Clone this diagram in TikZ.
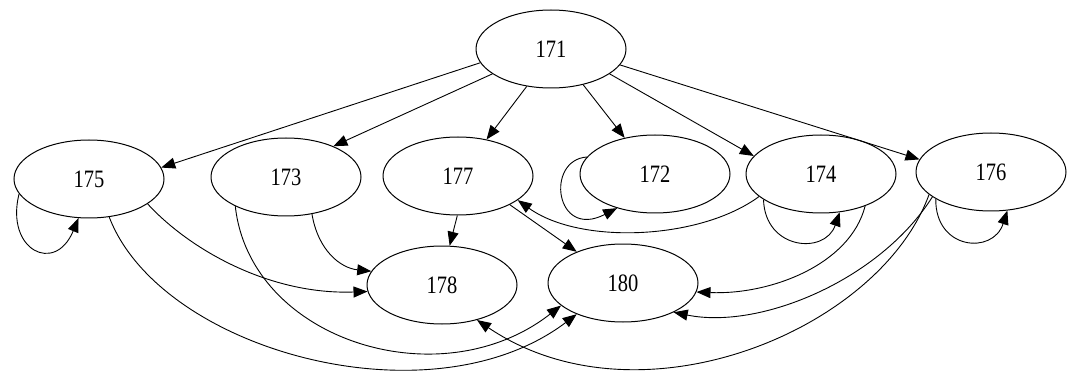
\documentclass[tikz,border=0pt]{standalone}
\usepackage{fontspec}
\usepackage{graphicx}
\setmainfont{Liberation Serif}
\usetikzlibrary{shapes.geometric,arrows.meta}

\tikzset{
  state/.style={draw, ellipse, line width=1pt, minimum width=150pt,
    minimum height=78pt, inner sep=0pt,
    font=\fontsize{20.5}{20}\selectfont},
  link/.style={line width=0.9pt, -{Triangle[length=14pt,width=11pt]}},
}
\newcommand{\lbl}[1]{\scalebox{1}[1.22]{#1}}

\begin{document}
\begin{tikzpicture}[x=1pt, y=-1pt]
  \useasboundingbox (0,0) rectangle (1068,374);

  % states
  \node[state] (n171) at (551,49)  {\lbl{171}};
  \node[state] (n175) at (89,179)  {\lbl{175}};
  \node[state] (n173) at (286,177) {\lbl{173}};
  \node[state] (n177) at (458,176) {\lbl{177}};
  \node[state] (n172) at (655,174) {\lbl{172}};
  \node[state] (n174) at (821,174) {\lbl{174}};
  \node[state] (n176) at (991,172) {\lbl{176}};
  \node[state] (n178) at (442,285) {\lbl{178}};
  \node[state] (n180) at (623,283) {\lbl{180}};

  % transitions out of 171
  \draw[link] (n171.191) -- (n175.9);
  \draw[link] (n171.203) -- (n173.33);
  \draw[link] (n171.237) -- (n177.52);
  \draw[link] (n171.-48) -- (n172.130);
  \draw[link] (n171.-23) -- (n174.165);
  \draw[link] (n171.-13) -- (n176.170);

  % self loops
  \draw[link] (n175.192) .. controls (5,250) and (55,275) .. (n175.-105);
  \draw[link] (n172.166) .. controls (545,160) and (555,240) .. (n172.222);
  \draw[link] (n174.204) .. controls (765,250) and (825,255) .. (n174.-64);
  \draw[link] (n176.206) .. controls (935,250) and (993,255) .. (n176.-67);

  % transitions into 178
  \draw[link] (n175.-23) .. controls (190,250) and (270,295) .. (n178.185);
  \draw[link] (n173.-55) .. controls (318,250) and (340,268) .. (n178.169);
  \draw[link] (n177.-91) -- (n178.79);
  \draw[link] (n176.200) .. controls (880,330) and (640,430) .. (n178.-45);

  % transitions into 180
  \draw[link] (n177.-29) -- (n180.146);
  \draw[link] (n175.-62) .. controls (160,350) and (430,425) .. (n180.214);
  \draw[link] (n173.210) .. controls (250,340) and (440,400) .. (n180.200);
  \draw[link] (n174.-36) .. controls (850,265) and (770,295) .. (n180.-7);
  \draw[link] (n176.203) .. controls (880,280) and (760,330) .. (n180.-30);

  % transition from 174 back to 177
  \draw[link] (n174.200) .. controls (700,240) and (580,245) .. (n177.-22);
\end{tikzpicture}
\end{document}
